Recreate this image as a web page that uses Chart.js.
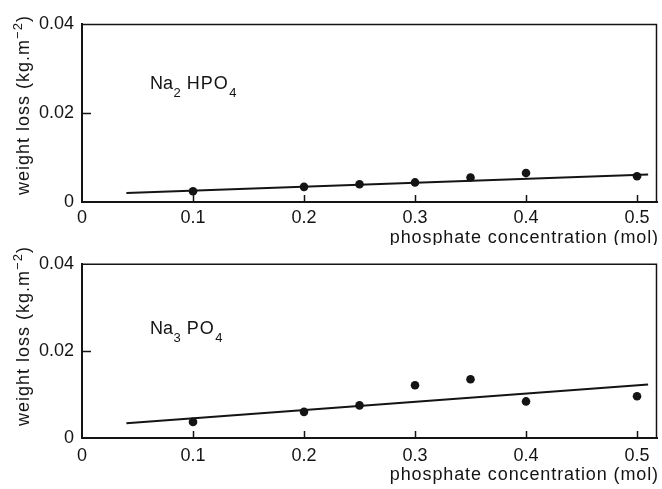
<!DOCTYPE html>
<html>
<head>
<meta charset="utf-8">
<script src="https://cdn.jsdelivr.net/npm/chart.js@4.4.1/dist/chart.umd.min.js"></script>
<style>
  html, body { margin: 0; padding: 0; background: #fff; }
  #wrap { position: relative; width: 662px; height: 489px; overflow: hidden; background: #fff; }
  .panel { position: absolute; left: 0; }
</style>
</head>
<body>
<div id="wrap">
  <canvas id="panelHPO" class="panel" style="top:0" width="662" height="245"></canvas>
  <canvas id="panelPO" class="panel" style="top:245px" width="662" height="244"></canvas>
</div>
<script>
// Measured weight loss against phosphate concentration
const concentration = [0.1, 0.2, 0.25, 0.3, 0.35, 0.4, 0.5];
const lossNa2HPO4 = [0.0024, 0.0034, 0.0040, 0.0044, 0.0055, 0.0065, 0.0058];
const lossNa3PO4  = [0.0037, 0.0060, 0.0075, 0.0121, 0.0135, 0.0084, 0.0096];

// Fitted trend lines (end points)
const fitX = [0.04, 0.51];
const fitNa2HPO4 = [0.0020, 0.0062];
const fitNa3PO4  = [0.0034, 0.0123];

// Axis ticks and labels
const xTicks = [0, 0.1, 0.2, 0.3, 0.4, 0.5];
const xTickLabels = ['0', '0.1', '0.2', '0.3', '0.4', '0.5'];
const yTicks = [0, 0.02, 0.04];
const yTickLabels = ['0', '0.02', '0.04'];

const xTitle = 'phosphate concentration (mol)';
const yTitleMain = 'weight loss (kg.m';
const yTitleSup = '\u22122';
const yTitleEnd = ')';

// Compound names, split into normal and subscript runs
const nameNa2HPO4 = [{ text: 'Na' }, { text: '2', sub: true }, { gap: 6 }, { text: 'HPO', spacing: 1 }, { text: '4', sub: true }];
const nameNa3PO4  = [{ text: 'Na' }, { text: '3', sub: true }, { gap: 6 }, { text: 'PO', spacing: 1 }, { text: '4', sub: true }];

const FONT = '"Liberation Sans", Arial, Helvetica, sans-serif';
const INK = '#141414';

function drawFormula(ctx, x, y, parts) {
  let cx = x;
  for (const p of parts) {
    if (p.gap) { cx += p.gap; continue; }
    ctx.font = (p.sub ? '13px ' : '18px ') + FONT;
    ctx.letterSpacing = (p.spacing || 0) + 'px';
    ctx.fillText(p.text, cx, p.sub ? y + 8 : y);
    cx += ctx.measureText(p.text).width + (p.sub ? 0 : 0.5);
  }
  ctx.letterSpacing = '0px';
}

// Frame, inward tick marks, compound name and axis titles
const panelDecor = {
  id: 'panelDecor',
  afterDraw(chart, args, opts) {
    const { ctx, chartArea: a, scales: { x, y } } = chart;
    ctx.save();
    ctx.strokeStyle = INK;
    ctx.fillStyle = INK;

    // top and right sides of the box
    ctx.lineWidth = 1.5;
    ctx.beginPath();
    ctx.moveTo(a.left, a.top + 0.5);
    ctx.lineTo(a.right - 0.5, a.top + 0.5);
    ctx.lineTo(a.right - 0.5, a.bottom);
    ctx.stroke();

    // inward tick marks
    ctx.beginPath();
    xTicks.forEach(v => {
      if (v === 0) return;
      const px = Math.round(x.getPixelForValue(v)) + 0.5;
      ctx.moveTo(px, a.bottom);
      ctx.lineTo(px, a.bottom - 7);
    });
    yTicks.forEach(v => {
      if (v === 0 || v === y.max) return;
      const py = Math.round(y.getPixelForValue(v)) + 0.5;
      ctx.moveTo(a.left, py);
      ctx.lineTo(a.left + 9, py);
    });
    ctx.stroke();

    // compound name
    ctx.textAlign = 'left';
    ctx.textBaseline = 'alphabetic';
    drawFormula(ctx, a.left + opts.nameDx, a.top + opts.nameDy, opts.name);

    // x axis title
    ctx.font = '18px ' + FONT;
    ctx.letterSpacing = '0.9px';
    ctx.textAlign = 'right';
    ctx.fillText(xTitle, 659, opts.xTitleY);

    // y axis title, rotated, with superscript
    ctx.textAlign = 'left';
    ctx.letterSpacing = '1px';
    ctx.font = '18px ' + FONT;
    const w1 = ctx.measureText(yTitleMain).width;
    const w3 = ctx.measureText(yTitleEnd).width;
    ctx.font = '13px ' + FONT;
    const w2 = ctx.measureText(yTitleSup).width;
    const total = w1 + w2 + w3;
    ctx.translate(29, opts.yTitleY);
    ctx.rotate(-Math.PI / 2);
    let cx = -total / 2;
    ctx.font = '18px ' + FONT;
    ctx.fillText(yTitleMain, cx, 0);
    cx += w1;
    ctx.font = '13px ' + FONT;
    ctx.fillText(yTitleSup, cx, -7);
    cx += w2;
    ctx.font = '18px ' + FONT;
    ctx.fillText(yTitleEnd, cx, 0);
    ctx.restore();
  }
};

function makePanel(canvasId, values, fit, name, lay) {
  return new Chart(document.getElementById(canvasId), {
    type: 'scatter',
    data: {
      datasets: [
        {
          type: 'line',
          data: fitX.map((v, i) => ({ x: v, y: fit[i] })),
          borderColor: INK,
          borderWidth: 2,
          pointRadius: 0,
          tension: 0,
          fill: false,
          order: 2
        },
        {
          data: concentration.map((c, i) => ({ x: c, y: values[i] })),
          backgroundColor: INK,
          borderColor: INK,
          borderWidth: 0,
          pointRadius: 4.3,
          order: 1
        }
      ]
    },
    options: {
      responsive: false,
      animation: false,
      devicePixelRatio: 1,
      layout: { padding: { top: lay.top, right: 5, left: 0, bottom: 0 } },
      plugins: {
        legend: { display: false },
        tooltip: { enabled: false },
        panelDecor: {
          name: name,
          nameDx: 68,
          nameDy: lay.nameDy,
          xTitleY: lay.xTitleY,
          yTitleY: lay.yTitleY
        }
      },
      scales: {
        x: {
          type: 'linear',
          min: 0,
          max: 0.518,
          grid: { display: false, drawTicks: false },
          border: { display: true, color: INK, width: 2 },
          afterBuildTicks: s => { s.ticks = xTicks.map(v => ({ value: v })); },
          afterFit: s => { s.height = lay.xHeight; },
          ticks: {
            padding: lay.xPad,
            color: INK,
            maxRotation: 0,
            autoSkip: false,
            font: { family: FONT, size: 18 },
            callback: (v, i) => xTickLabels[i]
          }
        },
        y: {
          type: 'linear',
          min: 0,
          max: 0.04,
          grid: { display: false, drawTicks: false },
          border: { display: true, color: INK, width: 2 },
          afterBuildTicks: s => { s.ticks = yTicks.map(v => ({ value: v })); },
          afterFit: s => { s.width = 82; },
          ticks: {
            padding: 8,
            color: INK,
            autoSkip: false,
            font: { family: FONT, size: 18 },
            callback: (v, i) => yTickLabels[i]
          }
        }
      }
    },
    plugins: [panelDecor]
  });
}

makePanel('panelHPO', lossNa2HPO4, fitNa2HPO4, nameNa2HPO4,
  { top: 24, xHeight: 43, xPad: 5, nameDy: 65, xTitleY: 243, yTitleY: 105 });
makePanel('panelPO', lossNa3PO4, fitNa3PO4, nameNa3PO4,
  { top: 14, xHeight: 51, xPad: 7, nameDy: 70, xTitleY: 235, yTitleY: 91 });
</script>
</body>
</html>
